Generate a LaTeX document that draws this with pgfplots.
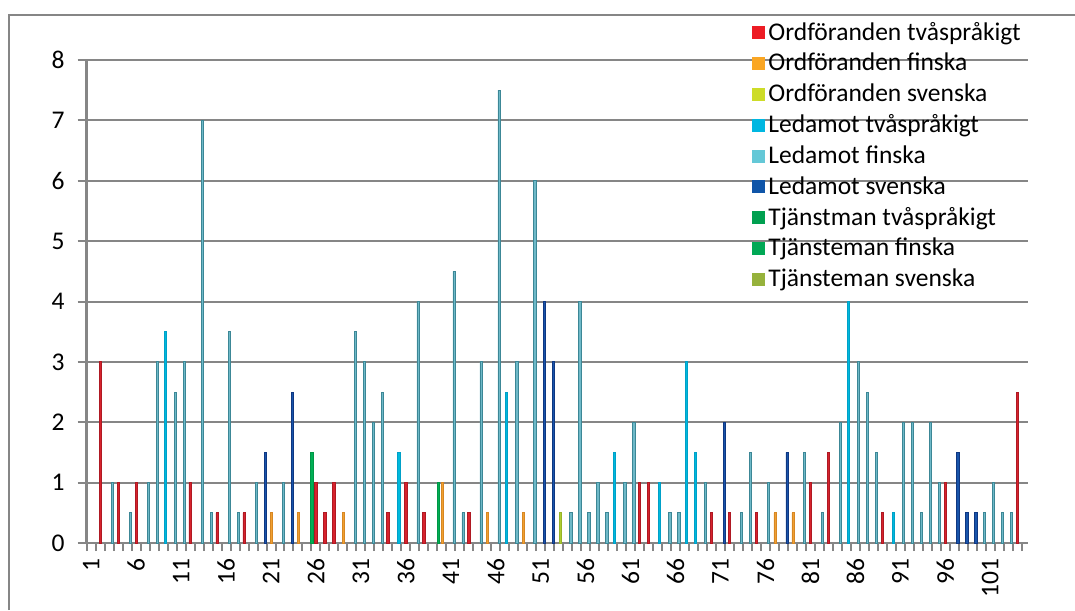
\documentclass[border=0pt]{standalone}
\usepackage{fontspec}
\setmainfont{Carlito}
\usepackage{pgfplots}
\pgfplotsset{compat=1.18}

\definecolor{gridgray}{RGB}{134,134,134}
% bar colours (thin bars look darker than the legend swatches)
\definecolor{redF}{RGB}{215,35,45}     \definecolor{redD}{RGB}{175,25,35}
\definecolor{oraF}{RGB}{240,160,50}    \definecolor{oraD}{RGB}{215,135,35}
\definecolor{ylwF}{RGB}{175,205,50}    \definecolor{ylwD}{RGB}{150,180,40}
\definecolor{cyaF}{RGB}{0,185,220}     \definecolor{cyaD}{RGB}{0,160,200}
\definecolor{teaF}{RGB}{110,185,200}   \definecolor{teaD}{RGB}{60,135,150}
\definecolor{blueF}{RGB}{25,85,170}    \definecolor{blueD}{RGB}{15,55,130}
\definecolor{grnF}{RGB}{0,175,85}      \definecolor{grnD}{RGB}{0,150,70}
% legend swatches
\definecolor{lgred}{RGB}{237,28,36}
\definecolor{lgora}{RGB}{250,166,35}
\definecolor{lgylw}{RGB}{205,220,40}
\definecolor{lgcya}{RGB}{0,183,225}
\definecolor{lgtea}{RGB}{100,200,215}
\definecolor{lgblue}{RGB}{15,85,168}
\definecolor{lggrn}{RGB}{0,160,80}
\definecolor{lggrn2}{RGB}{0,168,85}
\definecolor{lgoli}{RGB}{150,178,60}

\pgfplotsset{
  sw/.style={legend image code/.code={\fill[#1] (0pt,-3pt) rectangle (6pt,3pt);}},
  thinbar/.style 2 args={ybar, bar width=1.1pt, fill=#1, draw=#2, line width=0.4pt},
}

\begin{document}
\begin{tikzpicture}
\path[use as bounding box] (0,0) rectangle (537.5pt,305pt);
\draw[gridgray, line width=1.2pt] (4.5pt,0pt) -- (4.5pt,297.5pt) -- (537.5pt,297.5pt);
\begin{axis}[
  at={(43.35pt,33.5pt)}, anchor=south west,
  scale only axis, width=470.65pt, height=241.5pt,
  xmin=0.5, xmax=105.2, ymin=0, ymax=8,
  axis x line*=bottom, axis y line*=left,
  axis line style={gridgray, line width=1.3pt, -},
  tick align=outside,
  major tick length=4.5pt, minor tick length=4pt,
  xtick={1,6,...,101},
  minor xtick={0.5,1.5,...,104.5},
  major x tick style={draw=none},
  minor x tick style={gridgray, line width=1pt},
  ytick={0,1,...,8},
  major y tick style={gridgray, line width=1pt},
  ymajorgrids, grid style={gridgray, line width=1pt},
  tick label style={font=\fontsize{12.75}{15}\selectfont},
  /pgf/number format/assume math mode=true,
  xticklabel style={rotate=90, anchor=east},
  yticklabel style={xshift=-3pt},
  legend cell align=left,
  legend style={draw=none, fill=none, at={(0.700,1.095)}, anchor=north west,
    font=\fontsize{12.75}{15}\selectfont, row sep=1.4pt,
    nodes={inner sep=1.8pt}},
]
% Ordföranden tvåspråkigt
\addplot[thinbar={redF}{redD}, bar shift=0pt, sw=lgred] coordinates {
 (2,3) (4,1) (6,1) (12,1) (15,0.5) (18,0.5) (26,1) (27,0.5) (28,1) (34,0.5)
 (36,1) (38,0.5) (43,0.5) (62,1) (63,1) (70,0.5) (72,0.5) (75,0.5) (81,1)
 (83,1.5) (89,0.5) (96,1) (104,2.5)};
\addlegendentry{Ordföranden tvåspråkigt}
% Ordföranden finska
\addplot[thinbar={oraF}{oraD}, bar shift=0.27pt, sw=lgora] coordinates {
 (21,0.5) (24,0.5) (29,0.5) (40,1) (45,0.5) (49,0.5) (77,0.5) (79,0.5)};
\addlegendentry{Ordföranden finska}
% Ordföranden svenska
\addplot[thinbar={ylwF}{ylwD}, bar shift=0.72pt, sw=lgylw] coordinates {
 (53,0.5)};
\addlegendentry{Ordföranden svenska}
% Ledamot tvåspråkigt
\addplot[thinbar={cyaF}{cyaD}, bar shift=1.0pt, sw=lgcya] coordinates {
 (9,3.5) (35,1.5) (47,2.5) (59,1.5) (64,1) (67,3) (68,1.5) (85,4) (90,0.5)};
\addlegendentry{Ledamot tvåspråkigt}
% Ledamot finska
\addplot[thinbar={teaF}{teaD}, bar shift=1.62pt, sw=lgtea] coordinates {
 (3,1) (5,0.5) (7,1) (8,3) (10,2.5) (11,3) (13,7) (14,0.5) (16,3.5) (17,0.5)
 (19,1) (22,1) (30,3.5) (31,3) (32,2) (33,2.5) (37,4) (41,4.5) (42,0.5) (44,3)
 (46,7.5) (48,3) (50,6) (54,0.5) (55,4) (56,0.5) (57,1) (58,0.5) (60,1) (61,2)
 (65,0.5) (66,0.5) (69,1) (73,0.5) (74,1.5) (76,1) (80,1.5) (82,0.5) (84,2)
 (86,3) (87,2.5) (88,1.5) (91,2) (92,2) (93,0.5) (94,2) (95,1) (100,0.5)
 (101,1) (102,0.5) (103,0.5)};
\addlegendentry{Ledamot finska}
% Ledamot svenska
\addplot[thinbar={blueF}{blueD}, bar shift=1.8pt, sw=lgblue] coordinates {
 (20,1.5) (23,2.5) (51,4) (52,3) (71,2) (78,1.5) (97,1.5) (98,0.5) (99,0.5)};
\addlegendentry{Ledamot svenska}
% Tjänstman tvåspråkigt
\addplot[thinbar={grnF}{grnD}, bar shift=2.5pt, sw=lggrn] coordinates {
 (25,1.5)};
\addlegendentry{Tjänstman tvåspråkigt}
% Tjänsteman finska
\addplot[thinbar={grnF}{grnD}, bar shift=2.6pt, sw=lggrn2] coordinates {
 (39,1)};
\addlegendentry{Tjänsteman finska}
% Tjänsteman svenska (no values)
\addlegendimage{sw=lgoli}
\addlegendentry{Tjänsteman svenska}
\end{axis}
\end{tikzpicture}
\end{document}
